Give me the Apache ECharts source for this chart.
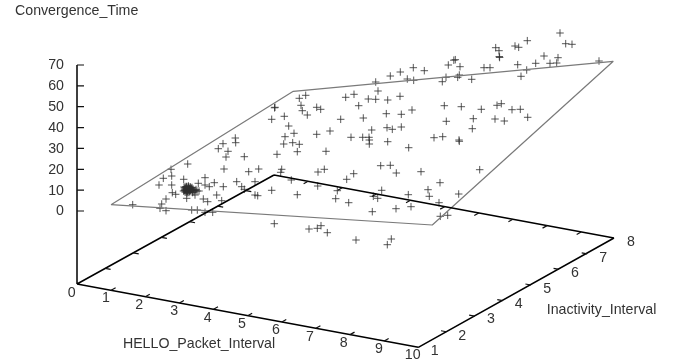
<!DOCTYPE html>
<html><head><meta charset="utf-8">
<script src="https://cdn.jsdelivr.net/npm/echarts@6/dist/echarts.min.js"></script>
<style>html,body{margin:0;padding:0;background:#fff}#c{width:678px;height:363px;filter:blur(0.45px)}</style></head>
<body><div id="c"></div>
<script>
// Axis ticks
const helloTicks = [0,1,2,3,4,5,6,7,8,9,10];
const inactivityTicks = [1,2,3,4,5,6,7,8];
const convergenceTicks = [0,10,20,30,40,50,60,70];
// Samples [across, down]
const samples = [
[299.3,98.3],[305.7,95.3],[275,107.3],[274.5,107.8],[301,105.3],[302.3,110.7],[307.3,115],[316.7,107.3],[320.7,109.3],[345.7,97.3],[354,94.3],[358.7,105.7],[340.7,119.3],[271.7,119.3],[284.3,116.3],[288.7,126],[294,133.3],[285,136.7],[316.7,134.3],[330,131],[351,137.3],[235.3,138],
[560,33],[565.7,43.7],[572,44.3],[527.3,40.7],[515,46],[518.7,47.3],[495.7,47.7],[499,50.7],[499.3,56.5],[499.6,57.5],[544,56],[558,57.7],[556.7,63],[550,63.3],[535.7,63.3],[517.7,64.7],[526.7,70],[521,76.3],[599,61],[455.3,59.7],[453.8,60.2],[448.3,65],[460,66.7],[484,67.7],[490,67.7],[459.3,75],[457.7,77.3],[471.7,79.3],[446,77.3],[442.3,81.7],[424.3,70.7],[413.3,67.7],[400.3,72],[390.3,76],[407.3,79],[413.7,80.3],[375.7,82],[378,91],[368.3,99],[375.7,99.3],[387.7,100],[400,96.3],[363.3,118],[386.3,113.7],[401.3,114.3],[412,110],[444.3,105.7],[461.3,106.7],[481.3,109.3],[497,105.3],[501.3,103.7],[512,109.7],[520.3,109.3],[527.7,117.3],[495,119],[504.3,121],[473.3,118.7],[446.3,121.3],[472.3,128.7],[371.7,130],[387,127.7],[392.3,129.3],[401.3,127],[369,137.3],[434,137.7],[442.7,136.7],[459,140],
[235.7,142.7],[223,143.7],[218.3,148.7],[228,151.3],[226,157],[244.3,156.7],[283.7,144],[292.7,142.7],[299.3,144.3],[297.3,151.7],[277,154.3],[326,151.3],[224,169],[248.7,171.7],[258.7,169],[281.7,169.3],[280.7,172.3],[318,172],[324.3,169.3],[353.7,173.7],[346.7,179.3],[291.3,180],[317.7,186],[337.3,190.7],[335.7,198.7],[348.7,202.7],[297.3,194.7],[271.7,190.3],
[187.7,164],[171,169.3],[171.7,176],[163.3,178.3],[159,185],[171.7,185],[183.7,179.3],[205,177.7],[205,185],[198.3,183.3],[214.3,182.7],[209.3,186.7],[223.3,186.7],[236.7,181.7],[255,181.7],[241.7,186.7],[244.3,189.3],[216.7,195],[255,195],[257.7,195.7],[221.7,200.7],[203.3,199],[207.7,201.7],[172.3,192.7],[175.7,194.3],[186.7,198.3],[195,195],[166,199],[161.7,204],[160,208.3],[166,210.7],[132.7,204.7],[191.7,210],[197.3,210],[205,212.3],[212.7,212.3],
[184,187],[185,190],[186,188],[186,192],[187,186.5],[187,190],[188,188],[188,192],[189,190],[189,187],[190,189],[190,191.5],[191,188],[191,190.5],[185,192],[186,190],[187,193],[188,190],[189,192.5],[192,190],[193,191],[195,190.5],[197,191],[199,191],[184.5,189],[186.5,187],[188.5,186],[190.5,187],[183.5,191],[192,187.5],
[185.5,189],[186.5,191],[187.5,189],[187.5,191.5],[188.5,187.5],[189.5,188.5],[189.5,191],[190.5,190],[191.5,189],[184.5,190.5],[186,186.5],[193,189],[194,192],[196,189.5],[185,187.5],[192.5,192.5],
[274.3,223.7],[309,229],[317.3,228.3],[321,225.7],[327.3,232.7],[356,240],
[362.7,137.3],[369.3,140],[369.3,144],[387.7,141.7],[408.7,147.7],[459.3,141.3],[380.7,165.7],[390.3,165.3],[396.3,173],[421,171.7],[479.7,169.7],[440,182.7],[428,189.7],[429.3,196.3],[458.7,194],[381.7,190.3],[373.3,196.3],[377.7,198.3],[408.3,194.7],[439,202.7],[372.3,211.7],[396,208.7],[411,206.7],[440.3,216.3],[447.7,215.3],[391.3,239],[387.3,244.7]
];
// Fitted plane outline
const planeOutline = [[111,204.7],[293.3,91.3],[613.3,61.3],[432.3,225],[111,204.7]];
// Projection frame corners
const cornerOrigin = [77,284], cornerX = [418.3,347.3], cornerY = [274,175], cornerFar = [614,238];
const zAxisTop = 65, zZeroAt = 211;

const stepX = [(cornerX[0]-cornerOrigin[0])/10,(cornerX[1]-cornerOrigin[1])/10];
const stepY = [(cornerY[0]-cornerOrigin[0])/7,(cornerY[1]-cornerOrigin[1])/7];
const base = (h,i)=>[cornerOrigin[0]+h*stepX[0]+(i-1)*stepY[0],cornerOrigin[1]+h*stepX[1]+(i-1)*stepY[1]];
const zAt = z=>zZeroAt-(zZeroAt-zAxisTop)*z/70;

const frame = [], ticks = [];
const seg=(list,a,b)=>list.push(a,b,null);
seg(frame,cornerOrigin,cornerX);seg(frame,cornerX,cornerFar);seg(frame,cornerFar,cornerY);seg(frame,cornerY,cornerOrigin);
seg(frame,[77,zAxisTop],cornerOrigin);
const tx=[stepX[0]*0.16,stepX[1]*0.16], ty=[stepY[0]*0.16,stepY[1]*0.16];
helloTicks.slice(1,-1).forEach(h=>{
  const a=base(h,1),b=base(h,8);
  seg(ticks,a,[a[0]+ty[0],a[1]+ty[1]]);seg(ticks,b,[b[0]-ty[0],b[1]-ty[1]]);
});
inactivityTicks.slice(1,-1).forEach(i=>{
  const a=base(0,i),b=base(10,i);
  seg(ticks,a,[a[0]+tx[0],a[1]+tx[1]]);seg(ticks,b,[b[0]-tx[0],b[1]-tx[1]]);
});
convergenceTicks.forEach(z=>seg(ticks,[77,zAt(z)],[84,zAt(z)]));

const helloLabelAt=[[71.7,291.7],[106,297.3],[139.3,304],[174.3,310],[207.7,316.7],[242,323.3],[276,329],[310,335.7],[343.7,341.7],[379,347.7],[412.7,354]];
const inactLabelAt=[[434.7,350],[462.3,334.7],[491,318.3],[518.7,303.3],[547.3,287.7],[575,271.7],[603.3,256.7],[631,240.7]];
const texts=[];
helloTicks.forEach((v,k)=>texts.push([helloLabelAt[k][0],helloLabelAt[k][1],String(v),'center']));
inactivityTicks.forEach((v,k)=>texts.push([inactLabelAt[k][0],inactLabelAt[k][1],String(v),'center']));
convergenceTicks.forEach(z=>texts.push([64,zAt(z)-0.5,String(z),'right']));
texts.push([15,10,'Convergence_Time','left']);
texts.push([199,343.3,'HELLO_Packet_Interval','center']);
texts.push([601.5,309,'Inactivity_Interval','center']);

const chart=echarts.init(document.getElementById('c'),null,{renderer:'canvas'});
chart.setOption({
  animation:false,backgroundColor:'#fff',
  grid:{left:0,right:0,top:0,bottom:0},
  xAxis:{type:'value',min:0,max:678,show:false},
  yAxis:{type:'value',min:0,max:363,inverse:true,show:false},
  series:[
    {type:'line',data:planeOutline,showSymbol:false,silent:true,lineStyle:{color:'#7a7a7a',width:1.2}},
    {type:'line',data:frame,showSymbol:false,silent:true,connectNulls:false,lineStyle:{color:'#000',width:1.5}},
    {type:'line',data:ticks,showSymbol:false,silent:true,connectNulls:false,lineStyle:{color:'#111',width:1.2}},
    {type:'scatter',data:samples,symbol:'path://M0 5H10M5 0V10',symbolSize:7.5,silent:true,
     itemStyle:{color:'rgba(0,0,0,0)',borderColor:'#2e2e2e',borderWidth:1}},
    {type:'custom',data:texts,silent:true,encode:{x:0,y:1},
     renderItem:(p,api)=>{
       const c=api.coord([api.value(0),api.value(1)]);
       return {type:'text',x:c[0],y:c[1]+1,style:{text:texts[p.dataIndex][2],align:texts[p.dataIndex][3],verticalAlign:'middle',
         font:'14.2px "Liberation Sans"',fill:'#333'}};
     }}
  ]
});
</script></body></html>
